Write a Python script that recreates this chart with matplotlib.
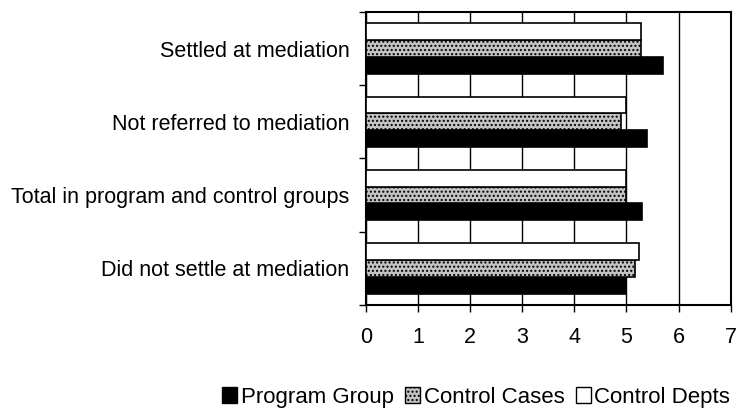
import matplotlib.pyplot as plt
import numpy as np
from matplotlib.patches import Patch

plt.rcParams['font.family'] = ['Liberation Sans', 'DejaVu Sans']

categories = ["Did not settle at mediation", "Total in program and control groups",
              "Not referred to mediation", "Settled at mediation"]
program_group = [5.0, 5.3, 5.4, 5.7]
control_cases = [5.17, 5.0, 4.9, 5.28]
control_depts = [5.25, 5.0, 5.0, 5.28]
series_names = ["Program Group", "Control Cases", "Control Depts"]

fig = plt.figure(figsize=(7.38, 4.12), dpi=100)
ax = fig.add_axes([0.496, 0.260, 0.494, 0.711])

y = np.arange(len(categories))
h = 0.23
ax.barh(y - h, program_group, height=h, color='black', edgecolor='black', lw=1.2, zorder=3)
ax.barh(y, control_cases, height=h, color='#c4c4c4', edgecolor='black', lw=1.2,
        hatch='....', zorder=3)
ax.barh(y + h, control_depts, height=h, color='white', edgecolor='black', lw=1.2, zorder=3)

ax.set_xlim(0, 7)
ax.set_ylim(-0.5, 3.5)
ax.set_xticks(range(8))
ax.set_yticks(y)
ax.set_yticklabels(categories)
ax.set_yticks(np.arange(-0.5, 4, 1), minor=True)
ax.tick_params(axis='y', which='major', length=0, pad=12, labelsize=15.5)
ax.tick_params(axis='y', which='minor', length=5, width=1, direction='out')
ax.tick_params(axis='x', length=5, width=1, labelsize=15.5, pad=11)
ax.grid(axis='x', color='black', lw=1, zorder=0)
for s in ax.spines.values():
    s.set_linewidth(1.5)

handles = [Patch(facecolor='black', edgecolor='black'),
           Patch(facecolor='#c4c4c4', edgecolor='black', hatch='....'),
           Patch(facecolor='white', edgecolor='black')]
fig.legend(handles, series_names, loc='center', bbox_to_anchor=(0.645, 0.036),
           ncol=3, frameon=False, fontsize=16, handlelength=0.7, handleheight=0.7,
           handletextpad=0.15, columnspacing=0.5)

plt.savefig("out.png", dpi=100)
